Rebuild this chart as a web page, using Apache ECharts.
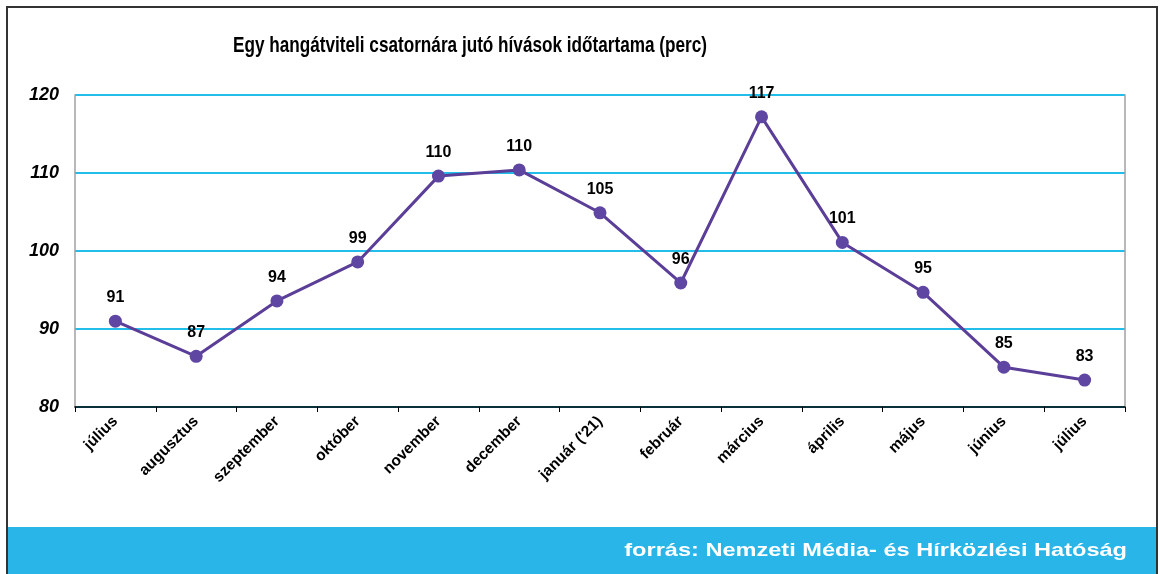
<!DOCTYPE html>
<html>
<head>
<meta charset="utf-8">
<script src="https://cdn.jsdelivr.net/npm/echarts@6/dist/echarts.min.js"></script>
<style>
html,body{margin:0;padding:0;background:#fff;}
#c{width:1160px;height:574px;}
</style>
</head>
<body>
<div id="c"></div>
<script>
const titleText = 'Egy hangátviteli csatornára jutó hívások időtartama (perc)';
const sourceText = 'forrás: Nemzeti Média- és Hírközlési Hatóság';
const categories = ['július','augusztus','szeptember','október','november','december','január (\'21)','február','március','április','május','június','július'];
const values = [91.0, 86.5, 93.6, 98.6, 109.6, 110.4, 104.9, 95.9, 117.2, 101.1, 94.7, 85.1, 83.45];
const yMin = 80, yMax = 120, yStep = 10;

const chart = echarts.init(document.getElementById('c'), null, {renderer:'canvas'});
chart.setOption({
  animation:false,
  backgroundColor:'#ffffff',
  textStyle:{fontFamily:'Liberation Sans, Arial, sans-serif'},
  graphic:[
    {type:'rect', shape:{x:7, y:7, width:1150, height:570}, style:{fill:'none', stroke:'#333', lineWidth:2}, z:10},
    {type:'text', x:233, y:46, scaleX:0.78, originX:0, originY:0,
      style:{text:titleText, fill:'#000', font:'bold 22px "Liberation Sans", Arial', textVerticalAlign:'middle', textAlign:'left'}, z:6},
    {type:'rect', shape:{x:8, y:527, width:1148, height:47}, style:{fill:'#29B5E8'}, z:5},
    {type:'text', x:1127, y:551, scaleX:1.24, originX:0, originY:0,
      style:{text:sourceText, fill:'#ffffff', font:'bold 19px "Liberation Sans", Arial', textAlign:'right', textVerticalAlign:'middle'}, z:6}
  ],
  grid:{left:75, right:35, top:95, bottom:167},
  xAxis:{
    type:'category',
    data:categories,
    boundaryGap:true,
    axisLine:{lineStyle:{color:'#000', width:1.5}},
    axisTick:{show:true, length:5, lineStyle:{color:'#000'}},
    axisLabel:{rotate:45, fontWeight:'bold', fontSize:15.5, color:'#000', margin:12, interval:0}
  },
  yAxis:[{
    type:'value', min:yMin, max:yMax, interval:yStep,
    axisLine:{show:true, lineStyle:{color:'#A0A0A0', width:1.5}},
    axisTick:{show:false},
    axisLabel:{fontWeight:'bold', fontStyle:'italic', fontSize:18, color:'#000', margin:16},
    splitLine:{show:true, lineStyle:{color:'#22BDE8', width:2}}
  },{
    type:'value', min:yMin, max:yMax, interval:yStep, position:'right',
    axisLine:{show:true, lineStyle:{color:'#A0A0A0', width:1.5}},
    axisTick:{show:false}, axisLabel:{show:false}, splitLine:{show:false}
  }],
  series:[{
    type:'line',
    data:values,
    yAxisIndex:0,
    symbol:'circle', symbolSize:13,
    lineStyle:{color:'#5B3E98', width:3},
    itemStyle:{color:'#5E46A2'},
    label:{show:true, position:'top', distance:9, fontWeight:'bold', fontSize:16, color:'#000',
      formatter:p=>Math.round(p.value)}
  }]
});
</script>
</body>
</html>
